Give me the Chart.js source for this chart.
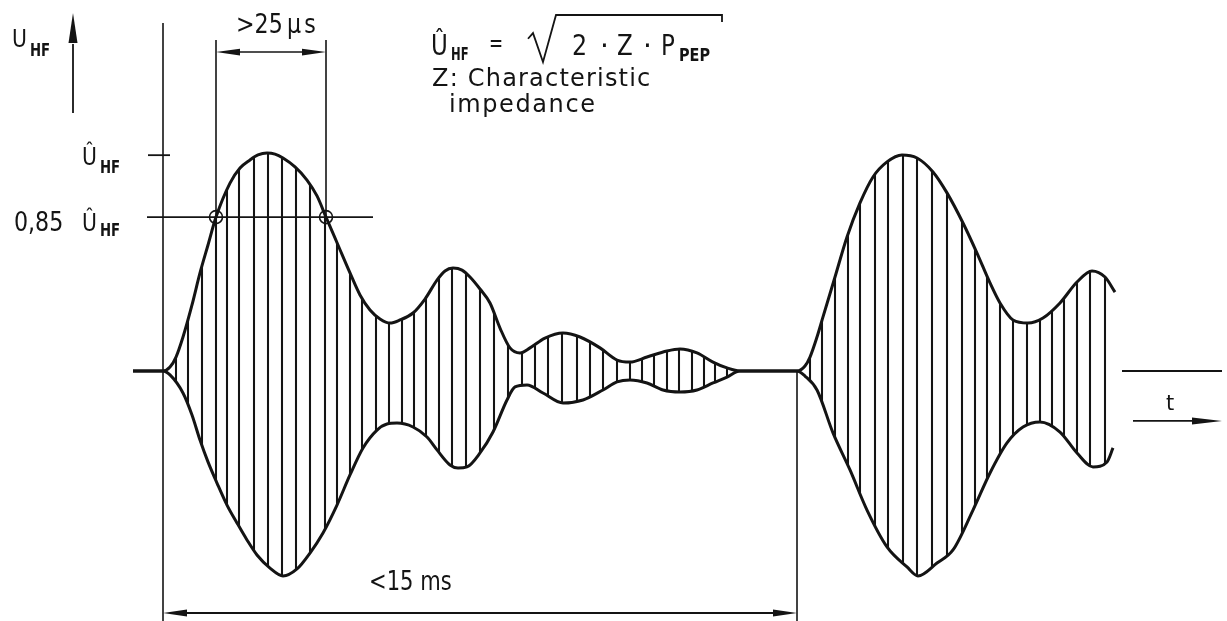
<!DOCTYPE html>
<html>
<head>
<meta charset="utf-8">
<script src="https://cdn.jsdelivr.net/npm/chart.js@4/dist/chart.umd.min.js"></script>
<style>
  html, body { margin: 0; padding: 0; background: #ffffff; }
  #c { display: block; }
</style>
</head>
<body>
<canvas id="c" width="1227" height="621"></canvas>
<script>
// ---- Data (time in drawing units, amplitude in % of Û_HF) ----
const upperT = [133,163,170,176,183,192,200,208,216,230,240,250,258,267,275,283,295,307,317,326,338,350,360,370,380,390,400,413,425,437,445,453,462,470,480,490,500,510,520,530,545,563,580,600,617,630,647,667,680,697,713,727,740,797,
                805,810,817,823,835,847,860,873,887,902,917,933,947,963,977,990,1000,1013,1028,1043,1060,1077,1092,1105,1115];
const upperA = [0,0,1.8,6.4,15.6,30.3,45.0,57.8,70.6,86.2,93.1,96.8,99.1,100,99.5,97.7,93.6,87.6,80.3,70.6,57.8,45.0,34.9,28.0,23.9,22.0,23.4,26.6,33.0,41.7,45.9,47.2,46.3,43.1,37.6,31.2,19.7,10.6,8.3,10.6,15.1,17.4,15.6,10.6,5.0,4.1,6.4,9.2,10.1,8.3,4.1,1.4,0,0,
                2.3,6.4,15.6,24.8,43.1,61.5,77.1,89.0,95.9,99.1,97.7,91.3,81.7,67.9,54.1,40.4,31.2,23.4,22.0,24.3,31.2,40.8,45.9,43.1,36.2];
const lowerT = [133,163,170,183,192,200,208,217,227,237,247,257,270,283,297,310,323,337,350,363,377,387,397,413,427,437,450,458,467,480,493,507,515,527,543,563,583,603,617,630,647,663,680,697,713,727,740,797,
                805,817,833,850,867,887,907,918,937,953,973,990,1007,1023,1040,1060,1077,1093,1107,1113];
const lowerA = [0,0,-1.8,-10.1,-20.2,-31.7,-41.7,-51.4,-61.5,-69.7,-77.5,-84.4,-90.4,-94.0,-90.8,-83.5,-74.3,-61.5,-47.7,-35.3,-27.1,-24.3,-23.9,-25.7,-30.3,-36.2,-43.1,-44.5,-44.0,-37.6,-28.0,-13.3,-7.3,-6.4,-10.1,-14.7,-13.3,-8.7,-5.0,-4.1,-5.5,-8.7,-9.6,-8.7,-5.5,-2.8,0,0,
                -2.3,-8.7,-28.4,-45.4,-63.8,-80.7,-89.9,-94.0,-88.1,-82.1,-63.8,-46.8,-33.0,-25.7,-23.4,-28.0,-37.6,-44.0,-41.7,-35.3];
// carrier cycles (hatch lines)
const hatchT = [176,188,202,216,227,239,254,268,282,296,310,325,337,350,362,376,389,402,414,426,439,452,466,480,494,508,522,535,548,562,577,590,603,617,630,642,654,667,679,692,704,715,727,
                810,822,835,848,860,875,888,903,917,932,947,962,975,987,1000,1013,1027,1040,1052,1064,1077,1090,1105];
const peakLevel = 99;      // Û_HF
const markLevel = 70.6;    // 0,85 Û_HF
const crossT = [216, 326]; // >25 µs crossing points
const burstStart = 163, burstEnd = 797; // <15 ms

// ---- Chart datasets ----
const upperData = upperT.map((t, i) => ({ x: t, y: upperA[i] }));
const lowerData = lowerT.map((t, i) => ({ x: t, y: lowerA[i] }));
const hatchData = hatchT.map(t => ({ x: t, y: [-110, 110] }));

const INK = '#141414';
const FONT = '"DejaVu Sans", "Liberation Sans", sans-serif';

function buildEnvelopeClip(chart, ctx) {
  const up = chart.getDatasetMeta(1), lo = chart.getDatasetMeta(2);
  up.dataset.updateControlPoints(chart.chartArea, 'x');
  lo.dataset.updateControlPoints(chart.chartArea, 'x');
  const U = up.data, L = lo.data;
  ctx.beginPath();
  for (let i = 0; i < U.length; i++) {
    const p = U[i];
    if (i === 0) ctx.moveTo(p.x, p.y);
    else { const q = U[i - 1]; ctx.bezierCurveTo(q.cp2x, q.cp2y, p.cp1x, p.cp1y, p.x, p.y); }
  }
  for (let i = L.length - 1; i >= 0; i--) {
    const p = L[i];
    if (i === L.length - 1) ctx.lineTo(p.x, p.y);
    else { const q = L[i + 1]; ctx.bezierCurveTo(q.cp1x, q.cp1y, p.cp2x, p.cp2y, p.x, p.y); }
  }
  ctx.closePath();
}

const hatchClip = {
  id: 'hatchClip',
  beforeDatasetDraw(chart, args) {
    if (args.index !== 0) return;
    const ctx = chart.ctx;
    ctx.save();
    buildEnvelopeClip(chart, ctx);
    ctx.clip();
  },
  afterDatasetDraw(chart, args) {
    if (args.index !== 0) return;
    chart.ctx.restore();
  }
};

const annotations = {
  id: 'annotations',
  afterDatasetsDraw(chart) {
    const ctx = chart.ctx;
    const X = v => chart.scales.x.getPixelForValue(v);
    const Y = v => chart.scales.y.getPixelForValue(v);
    ctx.save();
    ctx.strokeStyle = INK; ctx.fillStyle = INK; ctx.lineCap = 'butt';

    function line(x1, y1, x2, y2, w) {
      ctx.lineWidth = w || 1.6;
      ctx.beginPath(); ctx.moveTo(X(x1), Y(y1)); ctx.lineTo(X(x2), Y(y2)); ctx.stroke();
    }
    function head(tx, ty, fx, fy, len, hw) {
      const x0 = X(tx), y0 = Y(ty), x1 = X(fx), y1 = Y(fy);
      const d = Math.hypot(x1 - x0, y1 - y0), ux = (x1 - x0) / d, uy = (y1 - y0) / d;
      const bx = x0 + ux * len, by = y0 + uy * len;
      ctx.beginPath(); ctx.moveTo(x0, y0);
      ctx.lineTo(bx - uy * hw, by + ux * hw);
      ctx.lineTo(bx + uy * hw, by - ux * hw);
      ctx.closePath(); ctx.fill();
    }
    function txt(s, x, y, size, opts) {
      opts = opts || {};
      ctx.save();
      ctx.font = (opts.weight || 'normal') + ' ' + size + 'px ' + FONT;
      ctx.textBaseline = 'alphabetic';
      ctx.textAlign = opts.align || 'left';
      if (opts.ls) ctx.letterSpacing = opts.ls + 'px';
      ctx.translate(X(x), Y(y));
      ctx.scale(opts.sx || 1, 1);
      ctx.fillText(s, 0, 0);
      ctx.restore();
    }

    // U_HF axis arrow and the vertical reference line
    line(73, 118.3, 73, 150, 1.8);
    head(73, 164.2, 73, 118.3, 30, 4.5);
    line(burstStart, 159.6, burstStart, -114.7, 1.6);
    // Û tick and 0,85 Û level line
    line(148, peakLevel, 170, peakLevel, 1.8);
    line(147, markLevel, 373, markLevel, 1.8);
    // >25 µs dimension
    line(crossT[0], 151.8, crossT[0], markLevel, 1.6);
    line(crossT[1], 151.8, crossT[1], markLevel, 1.6);
    line(crossT[0] + 8, 146.3, crossT[1] - 8, 146.3, 1.6);
    head(crossT[0], 146.3, crossT[1], 146.3, 24, 3.4);
    head(crossT[1], 146.3, crossT[0], 146.3, 24, 3.4);
    ctx.lineWidth = 1.6;
    crossT.forEach(t => { ctx.beginPath(); ctx.arc(X(t), Y(markLevel), 6.5, 0, Math.PI * 2); ctx.stroke(); });
    // <15 ms dimension
    line(burstEnd, 0, burstEnd, -114.7, 1.6);
    line(burstStart + 8, -111.0, burstEnd - 8, -111.0, 1.8);
    head(burstStart, -111.0, burstEnd, -111.0, 24, 3.4);
    head(burstEnd, -111.0, burstStart, -111.0, 24, 3.4);
    // t axis
    line(1122, 0, 1222, 0, 1.8);
    line(1133, -22.9, 1200, -22.9, 1.8);
    head(1222, -22.9, 1133, -22.9, 30, 3.5);

    // texts
    txt('U', 12, 148.6, 24, { sx: 0.85 });
    txt('HF', 30, 144.6, 17, { weight: 'bold', sx: 0.78 });
    txt('Û', 82, 94.5, 24, { sx: 0.85 });
    txt('HF', 100, 90.8, 17, { weight: 'bold', sx: 0.78 });
    txt('0,85', 14, 64.2, 27, { sx: 0.82 });
    txt('Û', 82, 64.2, 24, { sx: 0.85 });
    txt('HF', 100, 61.8, 17, { weight: 'bold', sx: 0.78 });
    txt('>25', 236, 155.0, 27, { sx: 0.82 });
    txt('µs', 287, 155.0, 27, { sx: 0.82, ls: 4 });
    txt('<15 ms', 369, -100.5, 27, { sx: 0.78 });
    txt('t', 1166, -17.9, 21);

    // formula
    txt('Û', 431, 145.0, 28, { sx: 0.82 });
    txt('HF', 451, 142.8, 17, { weight: 'bold', sx: 0.68 });
    txt('=', 489, 147.0, 24, { sx: 0.7 });
    txt('2', 572, 145.0, 28, { sx: 0.85 });
    txt('·', 600, 145.0, 28);
    txt('Z', 617, 145.0, 28, { sx: 0.82 });
    txt('·', 643, 145.0, 28);
    txt('P', 661, 145.0, 28, { sx: 0.82 });
    txt('PEP', 679, 142.2, 17, { weight: 'bold', sx: 0.85 });
    ctx.lineWidth = 1.8; ctx.lineJoin = 'miter';
    ctx.beginPath();
    ctx.moveTo(X(528), Y(152.4)); ctx.lineTo(X(533), Y(155.0));
    ctx.lineTo(X(543), Y(141.7)); ctx.lineTo(X(556), Y(163.3));
    ctx.lineTo(X(722), Y(163.3)); ctx.lineTo(X(722), Y(160.1));
    ctx.stroke();
    txt('Z: Characteristic', 432, 130.7, 24, { ls: 1.2 });
    txt('impedance', 449, 118.8, 24, { ls: 1.6 });
    ctx.restore();
  }
};

new Chart(document.getElementById('c'), {
  type: 'line',
  data: {
    datasets: [
      { type: 'bar', label: 'carrier', data: hatchData, backgroundColor: INK, borderWidth: 0,
        barThickness: 1.4, order: 3 },
      { label: 'upper envelope', data: upperData, borderColor: INK, borderWidth: 3,
        pointRadius: 0, cubicInterpolationMode: 'monotone', fill: false, order: 1 },
      { label: 'lower envelope', data: lowerData, borderColor: INK, borderWidth: 3,
        pointRadius: 0, cubicInterpolationMode: 'monotone', fill: false, order: 1 }
    ]
  },
  options: {
    responsive: false,
    animation: false,
    devicePixelRatio: 1,
    layout: { padding: 0 },
    plugins: { legend: { display: false }, tooltip: { enabled: false } },
    scales: {
      x: { type: 'linear', min: 0, max: 1227, offset: false, display: false },
      y: { type: 'linear', min: -114.68, max: 170.18, display: false }
    }
  },
  plugins: [hatchClip, annotations]
});
</script>
</body>
</html>
